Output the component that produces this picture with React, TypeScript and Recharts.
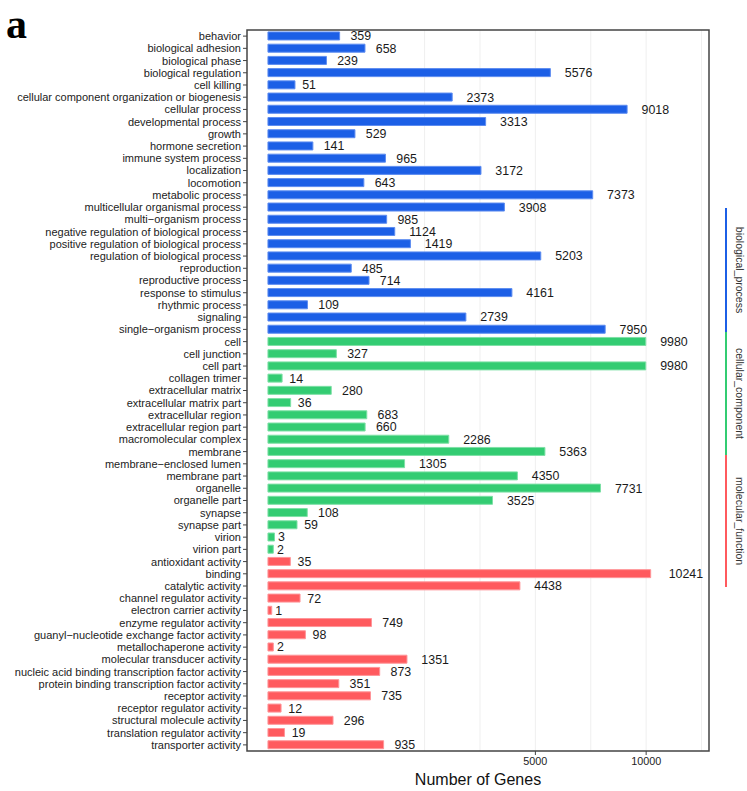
import React from "react";
import {
  BarChart,
  Bar,
  XAxis,
  YAxis,
  CartesianGrid,
  ReferenceArea,
  LabelList,
  Cell
} from "recharts";

const bpTerms = [
  "behavior",
  "biological adhesion",
  "biological phase",
  "biological regulation",
  "cell killing",
  "cellular component organization or biogenesis",
  "cellular process",
  "developmental process",
  "growth",
  "hormone secretion",
  "immune system process",
  "localization",
  "locomotion",
  "metabolic process",
  "multicellular organismal process",
  "multi−organism process",
  "negative regulation of biological process",
  "positive regulation of biological process",
  "regulation of biological process",
  "reproduction",
  "reproductive process",
  "response to stimulus",
  "rhythmic process",
  "signaling",
  "single−organism process"
];
const bpCounts = [
  359, 658, 239, 5576, 51, 2373, 9018, 3313, 529, 141, 965, 3172, 643, 7373,
  3908, 985, 1124, 1419, 5203, 485, 714, 4161, 109, 2739, 7950
];

const ccTerms = [
  "cell",
  "cell junction",
  "cell part",
  "collagen trimer",
  "extracellular matrix",
  "extracellular matrix part",
  "extracellular region",
  "extracellular region part",
  "macromolecular complex",
  "membrane",
  "membrane−enclosed lumen",
  "membrane part",
  "organelle",
  "organelle part",
  "synapse",
  "synapse part",
  "virion",
  "virion part"
];
const ccCounts = [
  9980, 327, 9980, 14, 280, 36, 683, 660, 2286, 5363, 1305, 4350, 7731, 3525,
  108, 59, 3, 2
];

const mfTerms = [
  "antioxidant activity",
  "binding",
  "catalytic activity",
  "channel regulator activity",
  "electron carrier activity",
  "enzyme regulator activity",
  "guanyl−nucleotide exchange factor activity",
  "metallochaperone activity",
  "molecular transducer activity",
  "nucleic acid binding transcription factor activity",
  "protein binding transcription factor activity",
  "receptor activity",
  "receptor regulator activity",
  "structural molecule activity",
  "translation regulator activity",
  "transporter activity"
];
const mfCounts = [
  35, 10241, 4438, 72, 1, 749, 98, 2, 1351, 873, 351, 735, 12, 296, 19, 935
];

const groups = ["biological_process", "cellular_component", "molecular_function"];
const groupFill = ["#1c5fe6", "#33cc72", "#ff5a5e"];
const groupStroke = ["#5d8cf0", "#7ee0a6", "#ff9498"];

const xTicks = [5000, 10000];
// ggplot sqrt-scale minor breaks (midpoints in transformed space)
const gridBreaks = [1716, 3144, 5000, 7286, 10000, 13143];
const xDomain = [-30.7, 13600];

const data = [
  ...bpTerms.map((term, i) => ({ term, count: bpCounts[i], group: 0 })),
  ...ccTerms.map((term, i) => ({ term, count: ccCounts[i], group: 1 })),
  ...mfTerms.map((term, i) => ({ term, count: mfCounts[i], group: 2 }))
];

const FONT = "'Liberation Sans', Arial, Helvetica, sans-serif";

function TermTick(props: any) {
  const { x, y, payload } = props;
  return (
    <text
      x={x}
      y={y}
      dy="0.36em"
      textAnchor="end"
      fontSize={11}
      fontFamily={FONT}
      fill="#222"
    >
      {payload.value}
    </text>
  );
}

function CountLabel(props: any) {
  const vb = props.viewBox || {};
  const x = props.x ?? vb.x;
  const y = props.y ?? vb.y;
  const w = props.width ?? vb.width;
  const h = props.height ?? vb.height;
  const text = String(props.value);
  const offset = text.length * 3.6;
  return (
    <text
      x={x + w + offset}
      y={y + h / 2}
      dy="0.36em"
      fontSize={12.4}
      fontFamily={FONT}
      fill="#1a1a1a"
    >
      {text}
    </text>
  );
}

function GroupStrip() {
  const top = 208;
  const segH = [124, 123, 132];
  let y = top;
  return (
    <svg
      width={30}
      height={600}
      style={{ position: "absolute", left: 715, top: 0, overflow: "visible" }}
    >
      {groups.map((g, i) => {
        const y0 = y;
        y += segH[i];
        const cy = (y0 + y) / 2;
        return (
          <g key={g}>
            <line
              x1={11}
              x2={11}
              y1={y0}
              y2={y}
              stroke={groupFill[i]}
              strokeWidth={2}
            />
            <text
              x={18}
              y={cy}
              transform={`rotate(90, 18, ${cy})`}
              textAnchor="middle"
              dy="-0.3em"
              fontSize={10.5}
              fontFamily={FONT}
              fill="#333"
            >
              {g}
            </text>
          </g>
        );
      })}
    </svg>
  );
}

export default function App() {
  return (
    <div
      style={{
        position: "absolute",
        left: 0,
        top: 0,
        width: 747,
        height: 791,
        background: "#fff",
        fontFamily: FONT
      }}
    >
      <svg
        width={60}
        height={60}
        style={{ position: "absolute", left: 0, top: 0 }}
      >
        <text
          x={6}
          y={38}
          fontFamily="'Liberation Serif', 'DejaVu Serif', serif"
          fontWeight="bold"
          fontSize={42}
          fill="#000"
        >
          a
        </text>
      </svg>
      <BarChart
        width={747}
        height={791}
        data={data}
        layout="vertical"
        margin={{ top: 30, right: 38, bottom: 0, left: 0 }}
        barCategoryGap="16%"
      >
        <CartesianGrid
          horizontal={false}
          verticalValues={gridBreaks}
          stroke="#efefef"
        />
        <XAxis
          type="number"
          scale="sqrt"
          domain={xDomain}
          allowDataOverflow
          ticks={xTicks}
          height={40}
          axisLine={false}
          tickLine={{ stroke: "#444" }}
          tickSize={4}
          tick={{ fontSize: 10.8, fill: "#222", fontFamily: FONT }}
          label={{
            value: "Number of Genes",
            position: "insideBottom",
            offset: 6,
            fontSize: 16,
            fill: "#111",
            fontFamily: FONT
          }}
        />
        <YAxis
          type="category"
          dataKey="term"
          width={247}
          interval={0}
          axisLine={false}
          tickLine={{ stroke: "#444" }}
          tickSize={4}
          tick={TermTick}
        />
        <ReferenceArea
          x1={xDomain[0]}
          x2={xDomain[1]}
          fill="none"
          stroke="#444"
          strokeWidth={1.5}
          ifOverflow="visible"
        />
        <Bar dataKey="count" isAnimationActive={false} strokeWidth={1}>
          {data.map((d, i) => (
            <Cell key={i} fill={groupFill[d.group]} stroke={groupStroke[d.group]} />
          ))}
          <LabelList dataKey="count" content={CountLabel} />
        </Bar>
      </BarChart>
      <GroupStrip />
    </div>
  );
}
